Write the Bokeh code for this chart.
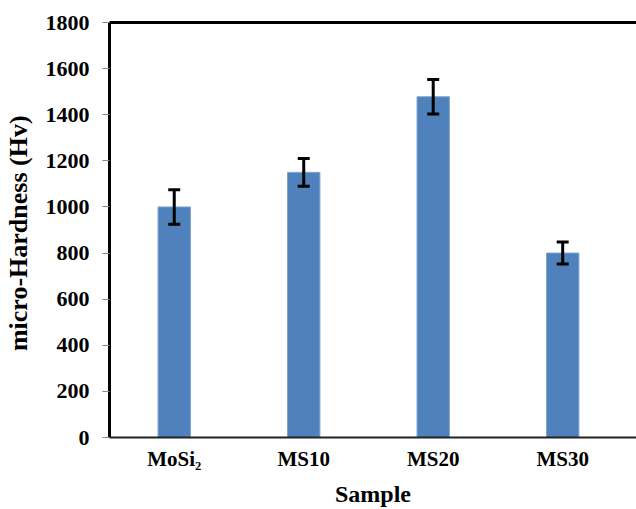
from bokeh.plotting import figure
from bokeh.models import (Range1d, FixedTicker, LinearAxis, Whisker, TeeHead,
                          ColumnDataSource)
from bokeh.embed import file_html
from bokeh.resources import INLINE

# Vickers micro-hardness per sample
samples = ["MoSi2", "MS10", "MS20", "MS30"]
tick_names = ["MoSi\u2082", "MS10", "MS20", "MS30"]
hardness = [1000, 1150, 1478, 800]
errors = [75, 60, 75, 48]
y_ticks = [0, 200, 400, 600, 800, 1000, 1200, 1400, 1600, 1800]

FONT = "Liberation Serif"
BAR = "#4F81BD"

xpos = [i + 0.5 for i in range(len(samples))]
src = ColumnDataSource(dict(
    x=xpos, sample=samples, hv=hardness,
    upper=[h + e for h, e in zip(hardness, errors)],
    lower=[h - e for h, e in zip(hardness, errors)],
))

p = figure(width=636, height=509, output_backend="svg", toolbar_location=None,
           x_range=Range1d(0, 4.07), y_range=Range1d(0, 1800),
           min_border_left=107, min_border_right=0, min_border_top=22,
           min_border_bottom=72)
p.outline_line_color = None
p.grid.visible = False
p.background_fill_color = "white"
p.border_fill_color = "white"

p.vbar(x="x", top="hv", width=0.25, source=src,
       fill_color=BAR, line_color="#7FA3D3", line_width=1)

wh = Whisker(base="x", upper="upper", lower="lower", source=src,
             line_color="black", line_width=3, level="overlay",
             upper_head=TeeHead(size=12, line_color="black", line_width=3),
             lower_head=TeeHead(size=12, line_color="black", line_width=3))
p.add_layout(wh)

# x axis
xa = p.xaxis[0]
xa.ticker = FixedTicker(ticks=xpos)
xa.major_label_overrides = {x: n for x, n in zip(xpos, tick_names)}
xa.major_tick_line_color = None
xa.minor_tick_line_color = None
xa.major_label_text_font = FONT
xa.major_label_text_font_style = "bold"
xa.major_label_text_font_size = "21px"
xa.major_label_text_color = "black"
xa.major_label_standoff = 3
xa.axis_line_color = "#222222"
xa.axis_line_width = 2
xa.axis_label = "Sample"
xa.axis_label_text_font = FONT
xa.axis_label_text_font_style = "bold"
xa.axis_label_text_font_size = "24px"
xa.axis_label_text_color = "black"
xa.axis_label_standoff = 7

# y axis
ya = p.yaxis[0]
ya.ticker = FixedTicker(ticks=y_ticks)
ya.minor_tick_line_color = None
ya.major_tick_in = 0
ya.major_tick_out = 7
ya.major_tick_line_color = "#888888"
ya.major_label_text_font = FONT
ya.major_label_text_font_style = "bold"
ya.major_label_text_font_size = "22px"
ya.major_label_text_color = "black"
ya.major_label_standoff = 13
ya.axis_line_color = "black"
ya.axis_line_width = 3
ya.axis_label = "micro-Hardness  (Hv)"
ya.axis_label_text_font = FONT
ya.axis_label_text_font_style = "bold"
ya.axis_label_text_font_size = "26px"
ya.axis_label_text_color = "black"
ya.axis_label_standoff = 10

# top border line of the plot area
top = LinearAxis(ticker=FixedTicker(ticks=[]), axis_line_color="black",
                 axis_line_width=3, major_tick_line_color=None,
                 minor_tick_line_color=None)
p.add_layout(top, "above")

open("out.html", "w").write(file_html(p, INLINE))
